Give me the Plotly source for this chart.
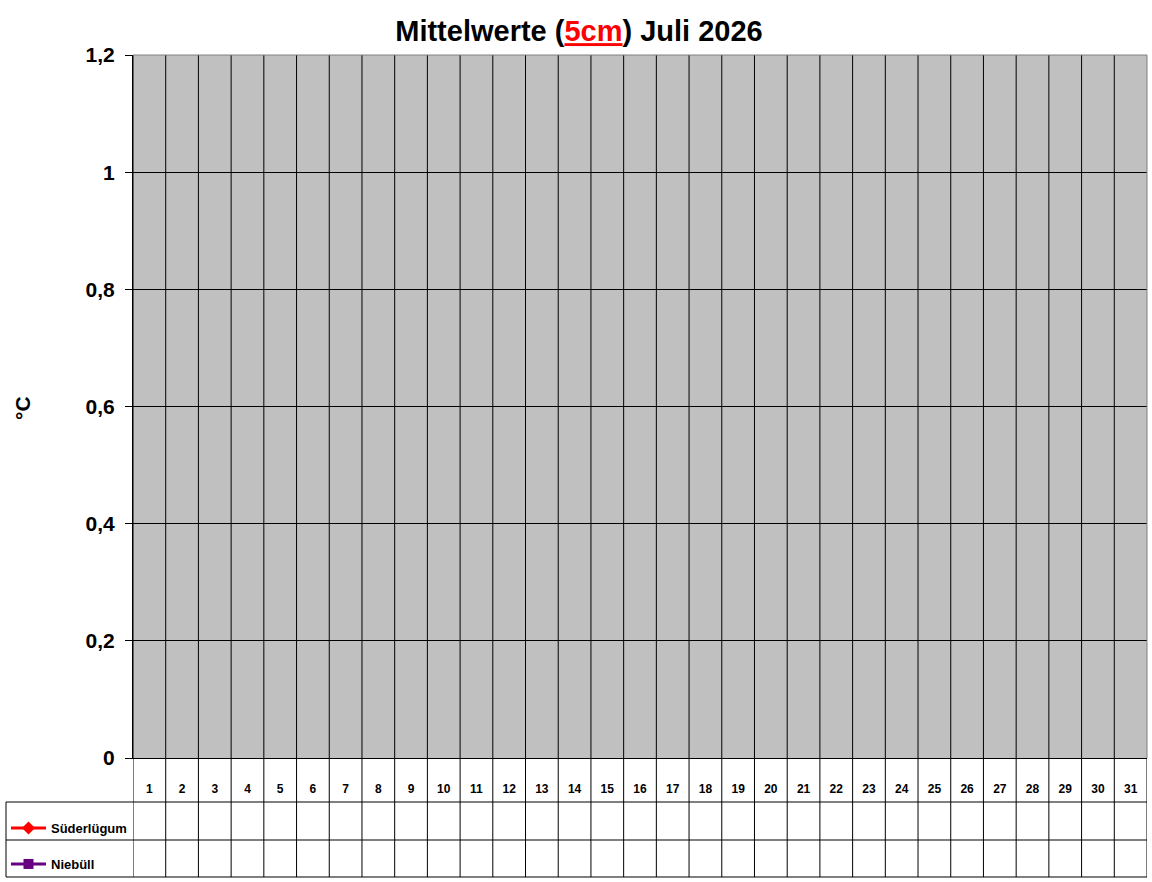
import plotly.graph_objects as go

# Tage im Juli
days = list(range(1, 32))
day_labels = [str(d) for d in days]

# Mittelwerte 5cm (noch keine Werte)
suederluegum = [None, None, None, None, None, None, None, None, None, None,
                None, None, None, None, None, None, None, None, None, None,
                None, None, None, None, None, None, None, None, None, None, None]
niebuell = [None, None, None, None, None, None, None, None, None, None,
            None, None, None, None, None, None, None, None, None, None,
            None, None, None, None, None, None, None, None, None, None, None]

y_ticks = [0, 0.2, 0.4, 0.6, 0.8, 1.0, 1.2]

FONT = "Liberation Sans, Arial, sans-serif"
W, H = 1152, 882
L, R, T, B = 133, 5, 55, 124


def px_x(p):
    return (p - L) / (W - L - R)


def px_y(p):
    return (H - B - p) / (H - T - B)


fig = go.Figure()
fig.add_trace(go.Scatter(
    x=days, y=suederluegum, name="Süderlügum", mode="lines+markers",
    line=dict(color="#FF0000", width=3),
    marker=dict(symbol="diamond", size=10, color="#FF0000"),
    legend="legend"))
fig.add_trace(go.Scatter(
    x=days, y=niebuell, name="Niebüll", mode="lines+markers",
    line=dict(color="#660080", width=3),
    marker=dict(symbol="square", size=10, color="#660080"),
    legend="legend2"))

table_bottom = px_y(877)
shapes = []
# Spaltentrenner (Diagramm + Tabelle)
for d in days:
    shapes.append(dict(type="line", xref="x", yref="paper", x0=d - 0.5, x1=d - 0.5,
                       y0=table_bottom, y1=1, line=dict(color="black", width=1)))
shapes.append(dict(type="line", xref="x", yref="paper", x0=days[-1] + 0.5, x1=days[-1] + 0.5,
                   y0=table_bottom, y1=0, line=dict(color="black", width=1)))
# Tabellenzeilen
for yy in [802, 840, 877]:
    shapes.append(dict(type="line", xref="paper", yref="paper", x0=px_x(6), x1=1,
                       y0=px_y(yy), y1=px_y(yy), line=dict(color="black", width=1)))
shapes.append(dict(type="line", xref="paper", yref="paper", x0=px_x(6), x1=px_x(6),
                   y0=px_y(802), y1=table_bottom, line=dict(color="black", width=1)))
# grauer Rahmen oben/rechts
shapes.append(dict(type="line", xref="paper", yref="paper", x0=0, x1=1, y0=1, y1=1,
                   line=dict(color="#808080", width=1)))
shapes.append(dict(type="line", xref="paper", yref="paper", x0=1, x1=1, y0=0, y1=1,
                   line=dict(color="#808080", width=1)))

fig.update_layout(
    width=W, height=H,
    margin=dict(l=L, r=R, t=T, b=B, autoexpand=False),
    paper_bgcolor="white",
    plot_bgcolor="#C0C0C0",
    separators=",.",
    showlegend=True,
    font=dict(family=FONT, color="black"),
    title=dict(
        text="Mittelwerte (<span style='color:#FF0000'><u>5cm</u></span>) Juli 2026",
        x=579 / W, xanchor="center", xref="container",
        y=1 - 31 / H, yanchor="middle",
        font=dict(family=FONT, size=29, weight="bold", color="black")),
    xaxis=dict(
        range=[0.5, 31.5], tickvals=days, ticktext=day_labels,
        showgrid=False, zeroline=False, ticks="", automargin=False,
        showline=True, linecolor="black", linewidth=1,
        ticklabelstandoff=20,
        tickfont=dict(family=FONT, size=12, weight="bold")),
    yaxis=dict(
        range=[0, 1.2], tickvals=y_ticks, automargin=False,
        showgrid=True, gridcolor="black", gridwidth=1,
        zeroline=False, showline=True, linecolor="black", linewidth=1,
        ticks="outside", ticklen=7, tickcolor="black", tickwidth=1,
        ticklabelstandoff=6,
        tickfont=dict(family=FONT, size=21, weight="bold")),
    legend=dict(x=px_x(6), y=px_y(828), xanchor="left", yanchor="middle",
                bgcolor="rgba(0,0,0,0)", borderwidth=0, itemwidth=35,
                font=dict(family=FONT, size=13, weight="bold")),
    legend2=dict(x=px_x(6), y=px_y(864), xanchor="left", yanchor="middle",
                 bgcolor="rgba(0,0,0,0)", borderwidth=0, itemwidth=35,
                 font=dict(family=FONT, size=13, weight="bold")),
    shapes=shapes,
    annotations=[dict(text="°C", xref="paper", yref="paper",
                      x=px_x(22), y=px_y(408), xanchor="center", yanchor="middle",
                      showarrow=False, textangle=-90,
                      font=dict(family=FONT, size=21, weight="bold"))],
)

fig.write_html("out.html", config={"displayModeBar": False},
               post_script="document.body.style.margin='0';")
